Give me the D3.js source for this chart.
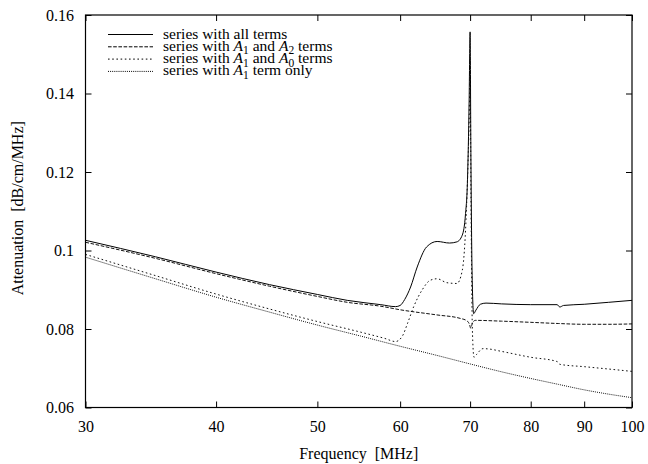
<!DOCTYPE html>
<html>
<head>
<meta charset="utf-8">
<script src="https://cdn.jsdelivr.net/npm/d3@7"></script>
<style>
  html, body { margin: 0; padding: 0; background: #fff; }
  svg { display: block; }
  text { font-family: "Liberation Serif", "Times New Roman", serif; fill: #000; }
</style>
</head>
<body>
<svg id="chart" width="648" height="464"></svg>
<script>
// Frequency tick labels and attenuation tick labels
const xTicks = [30, 40, 50, 60, 70, 80, 90, 100];
const yTicks = [0.06, 0.08, 0.1, 0.12, 0.14, 0.16];

// Series with all terms
const allFreq = [30, 35, 40, 45, 50, 53.4, 57.5, 59.4, 60.0, 60.6, 61.4, 62.3, 63.6, 65.1, 66.9, 68.0, 68.8, 69.3, 69.6, 69.85, 70.0, 70.12, 70.3, 70.55, 70.9, 71.6, 72.5, 75, 80, 84.8, 85.3, 86, 90, 95, 100];
const allVal  = [0.1026, 0.0984, 0.0945, 0.0913, 0.0888, 0.0873, 0.0862, 0.0857, 0.0860, 0.0875, 0.0907, 0.0958, 0.1009, 0.1023, 0.1019, 0.1022, 0.1039, 0.1094, 0.1180, 0.1380, 0.1557, 0.1250, 0.0950, 0.0839, 0.0848, 0.0863, 0.0866, 0.0864, 0.0862, 0.0862, 0.0856, 0.0860, 0.0863, 0.0868, 0.0873];

// Series with A1 and A2 terms
const a12Freq = [30, 35, 40, 45, 50, 53.4, 57.5, 60, 65, 68.5, 69.5, 69.9, 70.1, 70.35, 70.8, 75, 80, 85, 90, 95, 100];
const a12Val  = [0.1021, 0.0980, 0.0941, 0.0909, 0.0883, 0.0868, 0.0858, 0.0849, 0.0836, 0.0827, 0.0821, 0.0812, 0.0802, 0.0815, 0.0822, 0.0820, 0.0817, 0.0814, 0.0812, 0.0812, 0.0813];

// Series with A1 and A0 terms
const a10Freq = [30, 35, 40, 45, 50, 55, 58, 59.4, 60.3, 61.0, 61.8, 63.0, 64.1, 65.1, 66.5, 68.0, 68.8, 69.3, 69.6, 69.85, 70.0, 70.15, 70.35, 70.6, 71.0, 72, 73, 75, 80, 84.8, 85.3, 90, 95, 100];
const a10Val  = [0.0990, 0.0936, 0.0889, 0.0851, 0.0819, 0.0792, 0.0776, 0.0768, 0.0782, 0.0815, 0.0856, 0.0900, 0.0924, 0.0928, 0.0918, 0.0916, 0.0949, 0.1051, 0.1180, 0.1330, 0.1450, 0.1100, 0.0800, 0.0728, 0.0735, 0.0750, 0.0749, 0.0743, 0.0728, 0.0717, 0.0710, 0.0704, 0.0698, 0.0692];

// Series with A1 term only
const a1Freq = [30, 35, 40, 45, 50, 55, 60, 65, 70, 75, 80, 85, 90, 95, 100];
const a1Val  = [0.0983, 0.0928, 0.0881, 0.0843, 0.0810, 0.0782, 0.0756, 0.0733, 0.0711, 0.0691, 0.0674, 0.0659, 0.0645, 0.0634, 0.0625];

const seriesNames = [
  [{t: "series with all terms"}],
  [{t: "series with "}, {t: "A", i: true}, {t: "1", sub: true}, {t: " and "}, {t: "A", i: true}, {t: "2", sub: true}, {t: " terms"}],
  [{t: "series with "}, {t: "A", i: true}, {t: "1", sub: true}, {t: " and "}, {t: "A", i: true}, {t: "0", sub: true}, {t: " terms"}],
  [{t: "series with "}, {t: "A", i: true}, {t: "1", sub: true}, {t: " term only"}]
];
const dashes = [null, "3.6,1.6", "1.6,2.6", "1,1.1"];

const frame = {left: 85.5, right: 632, top: 15, bottom: 407.5};
const svg = d3.select("#chart");

const x = d3.scaleLog().domain([30, 100]).range([frame.left, frame.right]);
const y = d3.scaleLinear().domain([0.06, 0.16]).range([frame.bottom, frame.top]);

svg.append("clipPath").attr("id", "plotclip")
  .append("rect")
  .attr("x", frame.left).attr("y", frame.top)
  .attr("width", frame.right - frame.left).attr("height", frame.bottom - frame.top);

const line = d3.line()
  .x(d => x(d[0]))
  .y(d => y(d[1]))
  .curve(d3.curveMonotoneX);

const series = [
  d3.zip(allFreq, allVal),
  d3.zip(a12Freq, a12Val),
  d3.zip(a10Freq, a10Val),
  d3.zip(a1Freq, a1Val)
];

const plot = svg.append("g").attr("clip-path", "url(#plotclip)");
series.forEach((s, i) => {
  plot.append("path")
    .datum(s)
    .attr("d", line)
    .attr("fill", "none")
    .attr("stroke", i === 0 ? "#000" : "#111")
    .attr("stroke-width", 1)
    .attr("stroke-dasharray", dashes[i]);
});

// Axes with inward ticks on all four sides
const fmtY = d => d3.format("~g")(d);
const axBottom = svg.append("g")
  .attr("transform", `translate(0,${frame.bottom})`)
  .call(d3.axisBottom(x).tickValues(xTicks).tickFormat(d3.format("d")).tickSize(-6).tickPadding(13.5));
const axTop = svg.append("g")
  .attr("transform", `translate(0,${frame.top})`)
  .call(d3.axisTop(x).tickValues(xTicks).tickFormat("").tickSize(-6));
const axLeft = svg.append("g")
  .attr("transform", `translate(${frame.left},0)`)
  .call(d3.axisLeft(y).tickValues(yTicks).tickFormat(fmtY).tickSize(-6).tickPadding(11.5));
const axRight = svg.append("g")
  .attr("transform", `translate(${frame.right},0)`)
  .call(d3.axisRight(y).tickValues(yTicks).tickFormat("").tickSize(-6));

[axBottom, axTop, axLeft, axRight].forEach(a => {
  a.select(".domain").remove();
  a.selectAll("line").attr("stroke", "#000").attr("stroke-width", 1);
  a.selectAll("text").attr("font-size", 16).attr("font-family", '"Liberation Serif", serif');
});

// Frame
svg.append("rect")
  .attr("x", frame.left).attr("y", frame.top)
  .attr("width", frame.right - frame.left).attr("height", frame.bottom - frame.top)
  .attr("fill", "none").attr("stroke", "#000").attr("stroke-width", 1.2);

// Axis titles
svg.append("text")
  .attr("x", (frame.left + frame.right) / 2).attr("y", 459)
  .attr("text-anchor", "middle").attr("font-size", 16)
  .attr("xml:space", "preserve")
  .text("Frequency  [MHz]");
svg.append("text")
  .attr("transform", `translate(23,${(frame.top + frame.bottom) / 2 - 3}) rotate(-90)`)
  .attr("text-anchor", "middle").attr("font-size", 16)
  .attr("xml:space", "preserve")
  .text("Attenuation  [dB/cm/MHz]");

// Legend
const leg = svg.append("g");
seriesNames.forEach((parts, i) => {
  const ly = 34.5 + i * 12.3;
  leg.append("line")
    .attr("x1", 108).attr("x2", 153).attr("y1", ly).attr("y2", ly)
    .attr("stroke", "#000").attr("stroke-width", 1)
    .attr("stroke-dasharray", dashes[i]);
  const t = leg.append("text").attr("x", 163).attr("y", ly + 4).attr("font-size", 15.5)
    .attr("xml:space", "preserve");
  let lowered = false;
  parts.forEach(p => {
    const ts = t.append("tspan").text(p.t);
    if (p.i) ts.attr("font-style", "italic");
    if (p.sub) {
      ts.attr("font-size", 11.5).attr("dy", 3.5);
      lowered = true;
    } else if (lowered) {
      ts.attr("dy", -3.5);
      lowered = false;
    }
  });
});
</script>
</body>
</html>
